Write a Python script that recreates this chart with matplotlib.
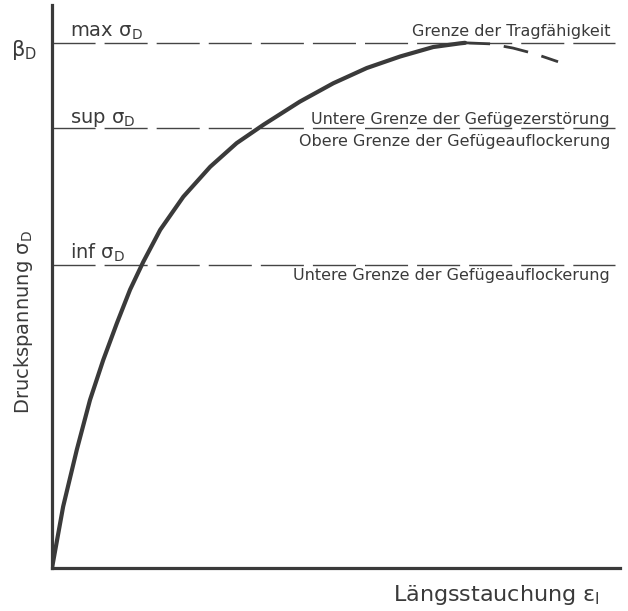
import numpy as np
import matplotlib
matplotlib.use("Agg")
import matplotlib.pyplot as plt

plt.rcParams['font.family'] = ['DejaVu Sans']
plt.rcParams['mathtext.fontset'] = 'dejavusans'

# normalised strain / stress (peak = 1, 1)
strain = [0.0, 0.027, 0.060, 0.092, 0.124, 0.157, 0.189, 0.221, 0.262, 0.318,
          0.383, 0.447, 0.512, 0.600, 0.681, 0.762, 0.843, 0.923, 0.988, 1.0]
stress = [0.0, 0.117, 0.225, 0.320, 0.396, 0.466, 0.530, 0.583, 0.644, 0.707,
          0.764, 0.809, 0.844, 0.888, 0.923, 0.952, 0.974, 0.992, 0.999, 1.0]
# descending branch (dashed)
strain_post = [1.0, 1.061, 1.116, 1.169, 1.225]
stress_post = [1.0, 0.998, 0.990, 0.979, 0.964]

levels = [1.0, 0.837, 0.577]  # max, sup, inf sigma_D
level_names = ["max σ$_\\mathrm{D}$", "sup σ$_\\mathrm{D}$", "inf σ$_\\mathrm{D}$"]
level_y = [1.011, 0.848, 0.588]

right_labels = ["Grenze der Tragfähigkeit",
                "Untere Grenze der Gefügezerstörung",
                "Obere Grenze der Gefügeauflockerung",
                "Untere Grenze der Gefügeauflockerung"]
right_y = [1.013, 0.846, 0.804, 0.549]

ink = "#3a3a3a"
fig = plt.figure(figsize=(6.28, 6.11), dpi=100)
ax = fig.add_axes([52/628, 43/611, 568/628, 563/611])
ax.set_xlim(0, 1.375)
ax.set_ylim(0, 1.072)
for s in ['top', 'right']:
    ax.spines[s].set_visible(False)
for s in ['left', 'bottom']:
    ax.spines[s].set_linewidth(2.3)
    ax.spines[s].set_color(ink)
ax.set_xticks([])
ax.set_yticks([])

for lv in levels:
    ax.plot([0, 1.363], [lv, lv], color="#444444", lw=1.0, dashes=(31, 6.5),
            solid_capstyle='butt', dash_capstyle='butt')

ax.plot(strain, stress, color=ink, lw=3.0, solid_capstyle='round', solid_joinstyle='round')
ax.plot(strain_post, stress_post, color=ink, lw=2.0, dashes=(9, 5))

for name, y in zip(level_names, level_y):
    ax.text(0.0436, y, name, fontsize=14, color=ink, va='baseline')

for lab, y in zip(right_labels, right_y):
    ax.text(1.351, y, lab, fontsize=11.5, color=ink, ha='right', va='baseline')

ax.text(-0.068, 0.987, "β$_\\mathrm{D}$", fontsize=15, color=ink, ha='center', va='center', clip_on=False)
ax.text(-0.068, 0.469, "Druckspannung σ$_\\mathrm{D}$", fontsize=14, color=ink,
        rotation=90, ha='center', va='center', clip_on=False)
ax.text(1.075, -0.051, "Längsstauchung ε$_\\mathrm{l}$", fontsize=16, color=ink,
        ha='center', va='center', clip_on=False)

fig.savefig("out.png", dpi=100)
